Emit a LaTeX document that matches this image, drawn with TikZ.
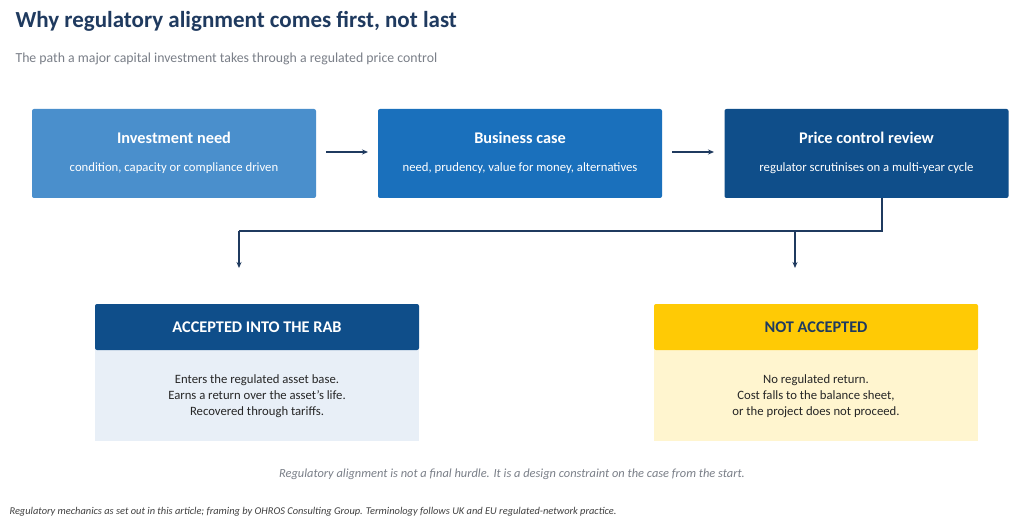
\documentclass[tikz,border=0pt]{standalone}
\usepackage{fontspec}
\setmainfont{Carlito}
\usetikzlibrary{arrows.meta}
\definecolor{navy}{HTML}{1F3A5F}
\definecolor{cA}{HTML}{4A8FCC}
\definecolor{cB}{HTML}{1A70BC}
\definecolor{cC}{HTML}{0F4E8A}
\definecolor{lb}{HTML}{E8EFF7}
\definecolor{yl}{HTML}{FFCA05}
\definecolor{lyl}{HTML}{FFF5CF}
\definecolor{gr}{HTML}{7A7F88}
\definecolor{ln}{HTML}{1F3A5F}
\tikzset{
 box/.style={rounded corners=2pt,minimum width=284pt,minimum height=89pt,inner sep=0pt},
 ttl/.style={font=\bfseries\fontsize{16.3}{18}\selectfont,text=white},
 sub/.style={font=\fontsize{12.7}{14}\selectfont,text=white},
 conn/.style={draw=ln,line width=1.2pt,-{Stealth[length=6pt,width=5pt]}},
 line/.style={draw=ln,line width=1.2pt}
}
\begin{document}
\begin{tikzpicture}[x=1pt,y=-1pt]
\useasboundingbox (0,0) rectangle (1024,529);
\fill[white] (0,0) rectangle (1024,529);
\node[anchor=west,font=\bfseries\fontsize{23}{27}\selectfont,text=navy] (title) at (12,21) {Why regulatory alignment comes first, not last};
\node[anchor=west,font=\fontsize{13.8}{16}\selectfont,text=gr] (subt) at (12,59) {The path a major capital investment takes through a regulated price control};
\node[box,fill=cA] (b1) at (174,153.5) {};
\node[box,fill=cB] (b2) at (520,153.5) {};
\node[box,fill=cC] (b3) at (866.5,153.5) {};
\foreach \n/\t/\s/\x in {b1/Investment need/{condition, capacity or compliance driven}/174,b2/Business case/{need, prudency, value for money, alternatives}/520,b3/Price control review/{regulator scrutinises on a multi-year cycle}/866.5}{
 \node[ttl] at (\x,138) {\t};
 \node[sub] at (\x,168) {\s};
}
\coordinate (a1s) at (326,152); \coordinate (a1e) at (368,152);
\coordinate (a2s) at (672,152); \coordinate (a2e) at (714,152);
\draw[conn] (a1s) -- (a1e);
\draw[conn] (a2s) -- (a2e);
% bottom boxes
\fill[lb] (95,345) rectangle (419,441);
\fill[cC,rounded corners=2pt] (95,304) rectangle (419,350);
\node[font=\bfseries\fontsize{16.3}{18}\selectfont,text=white] (acc) at (257,327) {ACCEPTED INTO THE RAB};
\node[font=\fontsize{12.7}{16}\selectfont,align=center,text=black!85] at (257,396) {Enters the regulated asset base.\\Earns a return over the asset's life.\\Recovered through tariffs.};
\fill[lyl] (654,345) rectangle (978,441);
\fill[yl,rounded corners=2pt] (654,304) rectangle (978,350);
\node[font=\bfseries\fontsize{16.3}{18}\selectfont,text=navy] (nacc) at (816,327) {NOT ACCEPTED};
\node[font=\fontsize{12.7}{16}\selectfont,align=center,text=black!85] at (816,396) {No regulated return.\\Cost falls to the balance sheet,\\or the project does not proceed.};
\coordinate (s) at (882,198);
\coordinate (j) at (882,231);
\coordinate (l) at (239,231);
\coordinate (m) at (795,231);
\coordinate (le) at (239,268);
\coordinate (me) at (795,268);
\draw[line] (s) -- (j) -- (l);
\draw[conn] (l) -- (le);
\draw[conn] (m) -- (me);
\node[font=\itshape\fontsize{12.4}{14}\selectfont,text=gr] at (512,474) {Regulatory alignment is not a final hurdle. It is a design constraint on the case from the start.};
\node[anchor=west,font=\itshape\fontsize{10.4}{12}\selectfont,text=black!75] at (6,512) {Regulatory mechanics as set out in this article; framing by OHROS Consulting Group. Terminology follows UK and EU regulated-network practice.};
\end{tikzpicture}
\end{document}
